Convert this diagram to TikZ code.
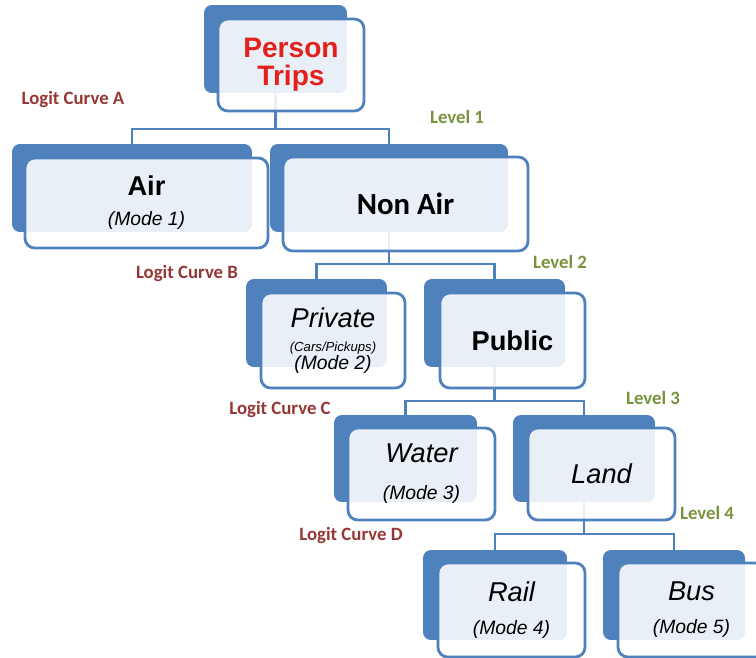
\documentclass[tikz,border=0pt]{standalone}
\usepackage{fontspec}
\setmainfont{Liberation Sans}
\newfontfamily\labelfont{Carlito}
\usetikzlibrary{backgrounds}
\definecolor{Office}{HTML}{4F81BD}
\definecolor{CurveRed}{HTML}{953735}
\definecolor{LevelGreen}{HTML}{77933C}
\definecolor{TripRed}{HTML}{E2211C}
\newcommand\modetxt[1]{{\fontsize{11}{13}\selectfont\itshape #1}}

\begin{document}
\begin{tikzpicture}[x=0.02cm,y=-0.02cm,
    backbox/.style={fill=Office,rounded corners=4.5pt,inner sep=0pt},
    frontbox/.style={draw=Office,line width=1.6pt,fill=white,fill opacity=.88,text opacity=1,
      rounded corners=5.5pt,align=center,inner sep=0pt,font=\fontsize{15.5}{17}\selectfont},
    link/.style={draw=Office,line width=1.6pt},
    curvelbl/.style={text=CurveRed,font=\labelfont\bfseries\fontsize{10.7}{12}\selectfont},
    levellbl/.style={text=LevelGreen,font=\labelfont\bfseries\fontsize{10.7}{12}\selectfont}]
  \useasboundingbox (0,0) rectangle (756,658);
  % dark tabs behind the boxes
  \foreach \nm/\cx/\cy/\w/\h in {trips/275.5/49/2.86/1.76,air/132/188/4.8/1.76,nonair/389/188/4.76/1.76,
      private/316.5/323/2.82/1.76,public/494.5/323/2.82/1.76,water/405.5/458.5/2.86/1.74,
      land/584/458.5/2.84/1.74,rail/495/595/2.88/1.8,bus/674/595/2.84/1.8}
    {\node[backbox,minimum width=\w cm,minimum height=\h cm] (\nm-b) at (\cx,\cy) {};}
  % boxes
  \node[frontbox,minimum width=2.92cm,minimum height=1.84cm,text=TripRed,
    font=\bfseries\fontsize{16}{16}\selectfont] (trips) at (291,65) {Person\\Trips};
  \node[frontbox,minimum width=4.86cm,minimum height=1.8cm] (air) at (146.5,203)
    {{\bfseries Air}\\\modetxt{(Mode 1)}};
  \node[frontbox,minimum width=4.9cm,minimum height=1.88cm,
    font=\labelfont\bfseries\fontsize{17.5}{20}\selectfont] (nonair) at (405.5,204) {Non Air};
  \node[frontbox,minimum width=2.88cm,minimum height=1.9cm] (private) at (333,340.5)
    {{\itshape Private}\\[-3.5pt]{\fontsize{7.5}{9}\selectfont\itshape (Cars/Pickups)}\\[-7pt]\modetxt{(Mode 2)}};
  \node[frontbox,minimum width=2.9cm,minimum height=1.9cm] (public) at (512.5,340.5) {\bfseries Public};
  \node[frontbox,minimum width=2.94cm,minimum height=1.84cm] (water) at (421.5,474)
    {{\itshape Water}\\[4pt]\modetxt{(Mode 3)}};
  \node[frontbox,minimum width=2.94cm,minimum height=1.84cm] (land) at (601.5,474) {\itshape Land};
  \node[frontbox,minimum width=2.94cm,minimum height=1.88cm] (rail) at (511.5,610)
    {{\itshape Rail}\\[1.7pt]\modetxt{(Mode 4)}};
  \node[frontbox,minimum width=2.94cm,minimum height=1.88cm] (bus) at (691.5,610)
    {{\itshape Bus}\\[1.7pt]\modetxt{(Mode 5)}};
  % tree links
  \begin{scope}[on background layer]
    \draw[link] (trips-b.south) -- (275.5,129) coordinate (barA) -| (air-b.north);
    \draw[link] (barA) -| (nonair-b.north);
    \draw[link] (nonair-b.south) -- (389,264) coordinate (barB) -| (private-b.north);
    \draw[link] (barB) -| (public-b.north);
    \draw[link] (public-b.south) -- (494.5,401) coordinate (barC) -| (water-b.north);
    \draw[link] (barC) -| (land-b.north);
    \draw[link] (land-b.south) -- (584,534) coordinate (barD) -| (rail-b.north);
    \draw[link] (barD) -| (bus-b.north);
  \end{scope}
  % labels
  \node[curvelbl] (curveA) at (73,99) {Logit Curve A};
  \node[curvelbl] (curveB) at (187,273) {Logit Curve B};
  \node[curvelbl] (curveC) at (280,409) {Logit Curve C};
  \node[curvelbl] (curveD) at (351,535) {Logit Curve D};
  \node[levellbl] (lvlA) at (457,117) {Level 1};
  \node[levellbl] (lvlB) at (560,262) {Level 2};
  \node[levellbl] (lvlC) at (653,398) {Level 3};
  \node[levellbl] (lvlD) at (707,513) {Level 4};
\end{tikzpicture}
\end{document}
